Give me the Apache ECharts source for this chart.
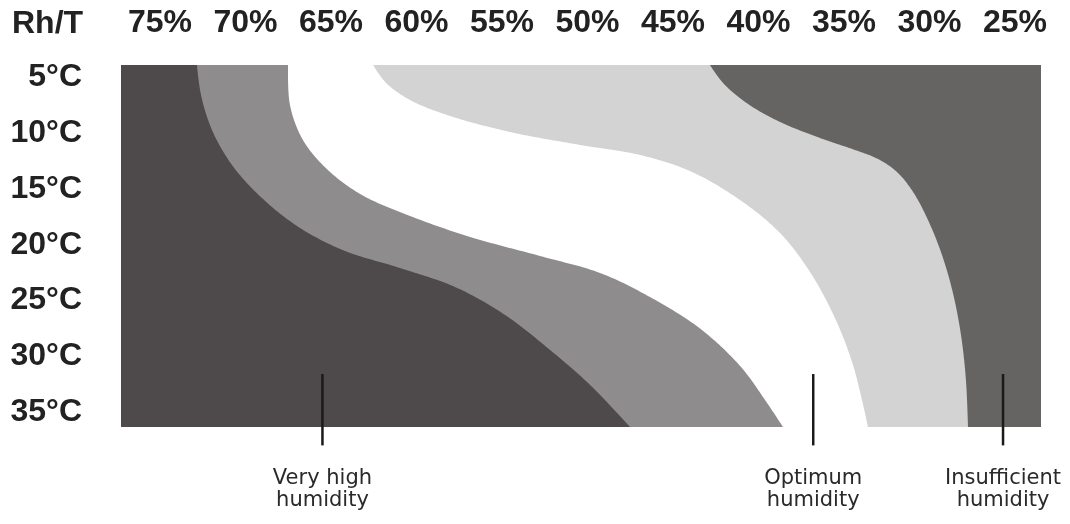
<!DOCTYPE html>
<html>
<head>
<meta charset="utf-8">
<script src="https://cdn.jsdelivr.net/npm/echarts@6/dist/echarts.min.js"></script>
<style>
html,body{margin:0;padding:0;background:#fff;}
#chart{width:1070px;height:524px;}
</style>
</head>
<body>
<div id="chart"></div>
<script>
// ---- data (humidity %, temperature °C) ----
const humidityTicks = [75, 70, 65, 60, 55, 50, 45, 40, 35, 30, 25];
const temperatureTicks = [5, 10, 15, 20, 25, 30, 35];
const cornerLabel = 'Rh/T';

// boundary between "very high" (dark) and the next band
const boundaryVeryHigh = [[72.84,3.88],[72.6,6.57],[71.96,9.71],[70.79,12.85],[69.04,15.81],[66.81,18.5],[64.18,20.56],[60.96,22.09],[57.75,23.79],[54.82,26.3],[52.19,29.44],[49.85,32.58],[47.51,36.35]];
// boundary between high band and optimum (white)
const boundaryHigh = [[67.51,3.88],[67.4,7.47],[66.64,10.61],[65.18,13.3],[63.19,15.54],[60.38,17.42],[56.87,19.3],[52.78,21.01],[49.27,22.53],[46.35,24.69],[43.42,27.52],[41.08,30.87],[39.62,33.92],[38.57,36.35]];
// boundary between optimum and low band
const boundaryOptimum = [[62.54,3.88],[61.78,5.49],[60.38,7.02],[58.04,8.45],[54.53,9.89],[50.44,11.05],[46.93,11.95],[44.01,13.39],[41.08,15.99],[38.74,18.95],[36.99,22.44],[35.53,26.57],[34.53,30.52],[33.95,33.92],[33.6,36.35]];
// boundary between low band and insufficient (dark right)
const boundaryDry = [[42.84,3.88],[42.02,5.58],[40.61,7.38],[38.74,8.99],[36.4,10.43],[34.36,11.5],[33.01,12.31],[31.9,13.48],[30.96,15.27],[30.09,17.78],[29.27,20.92],[28.63,24.33],[28.16,28.09],[27.87,32.13],[27.75,36.35]];

const annotationLabels = ['Very high\nhumidity', 'Optimum\nhumidity', 'Insufficient\nhumidity'];
const annotationHumidity = [65.5, 36.8, 25.7];

// ---- styling ----
const zoneColors = ['#4e4a4b', '#8e8c8d', '#ffffff', '#d3d3d3', '#656463'];
const X_MIN = 23.48, X_MAX = 77.28, Y_MIN = 3.88, Y_MAX = 36.35;

function spline(pts, steps) {
  const out = [];
  const n = pts.length;
  const d = (a, b) => Math.pow(Math.hypot(b[0]-a[0], b[1]-a[1]), 0.5) || 1e-4;
  for (let i = 0; i < n - 1; i++) {
    const p0 = pts[Math.max(i-1, 0)], p1 = pts[i], p2 = pts[i+1], p3 = pts[Math.min(i+2, n-1)];
    const t0 = 0, t1 = t0 + d(p0, p1), t2 = t1 + d(p1, p2), t3 = t2 + d(p2, p3);
    for (let s = 0; s < steps; s++) {
      const t = t1 + (t2 - t1) * s / steps;
      const lerp = (a, b, ta, tb) => { if (tb === ta) return a; const u = (t - ta) / (tb - ta); return [a[0] + (b[0]-a[0]) * u, a[1] + (b[1]-a[1]) * u]; };
      const A1 = lerp(p0, p1, t0, t1), A2 = lerp(p1, p2, t1, t2), A3 = lerp(p2, p3, t2, t3);
      const B1 = lerp(A1, A2, t0, t2), B2 = lerp(A2, A3, t1, t3);
      out.push(lerp(B1, B2, t1, t2));
    }
  }
  out.push(pts[n-1]);
  return out;
}

function zoneSeries(boundary, color) {
  return {
    type: 'custom',
    data: boundary,
    silent: true,
    renderItem: function (params, api) {
      if (params.dataIndex !== 0) return null;
      const px = boundary.map(p => api.coord(p));
      const curve = spline(px, 20);
      const pts = curve.concat([api.coord([X_MIN, Y_MAX]), api.coord([X_MIN, Y_MIN])]);
      return { type: 'polygon', shape: { points: pts }, style: { fill: color, stroke: null } };
    }
  };
}

const chart = echarts.init(document.getElementById('chart'));
const labelFont = { fontSize: 32, fontWeight: 'bold', color: '#222', fontFamily: 'Liberation Sans, Arial, sans-serif' };

chart.setOption({
  animation: false,
  backgroundColor: '#ffffff',
  grid: { left: 121, top: 65, width: 920, height: 362, show: true, backgroundColor: zoneColors[0], borderWidth: 0 },
  xAxis: {
    type: 'value', position: 'top', inverse: true, min: X_MIN, max: X_MAX,
    axisLine: { show: false }, axisTick: { show: false }, splitLine: { show: false },
    axisLabel: Object.assign({ customValues: humidityTicks, formatter: v => v + '%', margin: 26 }, labelFont)
  },
  yAxis: {
    type: 'value', inverse: true, min: Y_MIN, max: Y_MAX,
    axisLine: { show: false }, axisTick: { show: false }, splitLine: { show: false },
    axisLabel: Object.assign({ customValues: temperatureTicks, formatter: v => v + '°C', margin: 39, padding: [4, 0, 0, 0] }, labelFont)
  },
  graphic: [{
    type: 'text', left: 12, top: 8,
    style: { text: cornerLabel, font: 'bold 32px "Liberation Sans", Arial, sans-serif', fill: '#222' }
  }],
  series: [
    zoneSeries(boundaryVeryHigh, zoneColors[1]),
    zoneSeries(boundaryHigh, zoneColors[2]),
    zoneSeries(boundaryOptimum, zoneColors[3]),
    zoneSeries(boundaryDry, zoneColors[4]),
    {
      type: 'custom',
      silent: true,
      data: annotationHumidity.map((h, i) => [h, i]),
      renderItem: function (params, api) {
        const h = api.value(0);
        const top = api.coord([h, 31.6]);
        const bot = api.coord([h, 38.0]);
        return {
          type: 'group',
          children: [
            { type: 'line', shape: { x1: top[0], y1: top[1], x2: bot[0], y2: bot[1] }, style: { stroke: '#1a1a1a', lineWidth: 2.5 } },
            { type: 'text', x: bot[0], y: bot[1] + 22,
              style: { text: annotationLabels[params.dataIndex], align: 'center', verticalAlign: 'top',
                       font: '21px "DejaVu Sans", Verdana, sans-serif', lineHeight: 22, fill: '#2a2a2a' } }
          ]
        };
      }
    }
  ]
});
</script>
</body>
</html>
